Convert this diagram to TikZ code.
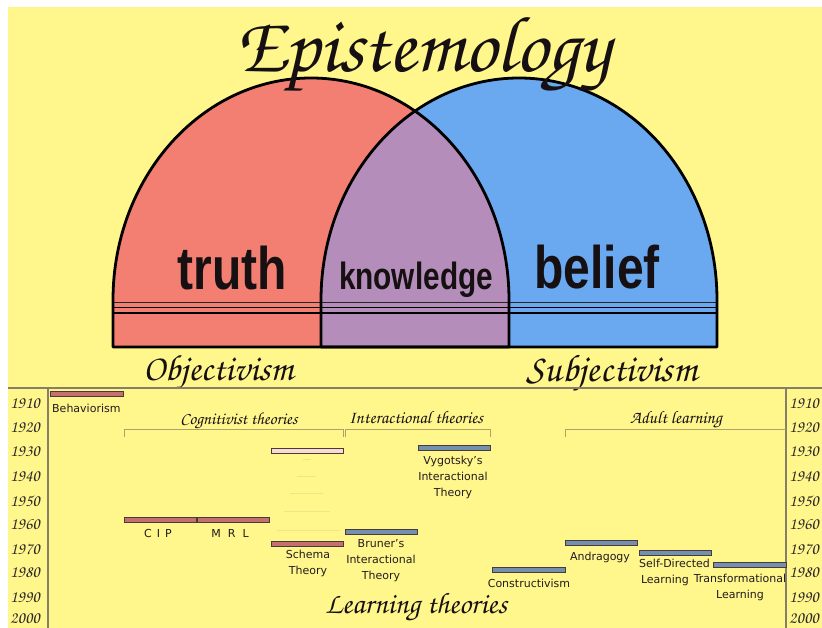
\documentclass[tikz,border=0pt]{standalone}
\usepackage{fontspec}
\usepackage{graphicx}
\setmainfont{DejaVu Sans}
\newfontfamily\arialb{Liberation Sans}
\newfontfamily\hand{texgyrechorus-mediumitalic.otf}

\definecolor{bgyel}{HTML}{FFF68C}
\definecolor{truthred}{HTML}{F27F72}
\definecolor{beliefblue}{HTML}{6AA8F0}
\definecolor{knowpurple}{HTML}{B58DBB}
\definecolor{barred}{HTML}{C47070}
\definecolor{barblue}{HTML}{7391AE}
\definecolor{barpale}{HTML}{F8DCD2}
\definecolor{barline}{HTML}{4A3A3A}
\definecolor{axisgray}{HTML}{857E68}
\definecolor{brkcol}{HTML}{ADA26A}
\definecolor{ink}{HTML}{161012}

\newcommand{\leftarch}{(113,-347) -- (113,-300) arc[start angle=180, end angle=0, x radius=198, y radius=222] -- (509,-347) -- cycle}
\newcommand{\rightarch}{(321,-347) -- (321,-300) arc[start angle=180, end angle=0, x radius=198, y radius=222] -- (717,-347) -- cycle}

\tikzset{
  arch/.style={draw=black, line width=2.8pt, line join=round},
  bar/.style={draw=barline, line width=0.9pt, minimum width=72pt, minimum height=5pt, inner sep=0pt},
  rbar/.style={bar, fill=barred},
  bbar/.style={bar, fill=barblue},
  lbl/.style={font=\fontsize{11}{16}\selectfont, text=ink!95, align=center, inner sep=0pt},
  yr/.style={font=\hand\fontsize{17}{17}\selectfont, text=ink!90, inner sep=0pt},
  brk/.style={draw=brkcol, line width=0.8pt},
  axis/.style={draw=axisgray, line width=1.4pt},
  faint/.style={draw=bgyel!80!brkcol, line width=0.8pt},
  big/.style={font=\arialb\bfseries\fontsize{60}{60}\selectfont, text=ink, xscale=0.8, anchor=base, inner sep=0pt},
  script/.style={anchor=base, inner sep=0pt, text=ink},
}

\begin{document}
\begin{tikzpicture}[x=1pt, y=1pt]
      \useasboundingbox (0,0) rectangle (822,-628);
      \fill[white] (0,0) rectangle (822,-628);
      \fill[bgyel] (8,-7) rectangle (822,-628);
      \fill[truthred] \leftarch;
      \fill[beliefblue] \rightarch;
      \begin{scope}
        \clip \leftarch;
        \fill[knowpurple] \rightarch;
      \end{scope}
      \draw[line width=0.7pt, black!85] (113,-302) -- (717,-302);
      \draw[line width=1.2pt] (113,-307.5) -- (717,-307.5);
      \draw[line width=2pt] (113,-313) -- (717,-313);
      \draw[arch] \leftarch;
      \draw[arch] \rightarch;
      \node[big] (tr) at (232,-290) {truth};
      \node[big, font=\arialb\bfseries\fontsize{38}{38}\selectfont, xscale=0.98] (kn) at (416,-290) {knowledge};
      \node[big] (be) at (597,-289) {belief};
      \node[script] (ttl) at (423,-72) {\resizebox{375pt}{!}{\hand Epistemology}};
      \node[script] (obj) at (218,-381) {\resizebox{150pt}{!}{\hand Objectivism}};
      \node[script] (sub) at (612,-381) {\resizebox{170pt}{!}{\hand Subjectivism}};
      \draw[axis] (8,-388) -- (822,-388);
      \draw[axis] (48,-388) -- (48,-628);
      \draw[axis] (786,-388) -- (786,-628);
      \node[yr] (l1) at (25,-404) {1910};  \node[yr] (r1) at (804,-404) {1910};
      \node[yr] (l2) at (25,-428) {1920};  \node[yr] (r2) at (804,-428) {1920};
      \node[yr] (l3) at (25,-452) {1930};  \node[yr] (r3) at (804,-452) {1930};
      \node[yr] (l4) at (25,-477) {1940};  \node[yr] (r4) at (804,-477) {1940};
      \node[yr] (l5) at (25,-501) {1950};  \node[yr] (r5) at (804,-501) {1950};
      \node[yr] (l6) at (25,-525) {1960};  \node[yr] (r6) at (804,-525) {1960};
      \node[yr] (l7) at (25,-549) {1970};  \node[yr] (r7) at (804,-549) {1970};
      \node[yr] (l8) at (25,-573) {1980};  \node[yr] (r8) at (804,-573) {1980};
      \node[yr] (l9) at (25,-598) {1990};  \node[yr] (r9) at (804,-598) {1990};
      \node[yr] (l10) at (25,-619) {2000}; \node[yr] (r10) at (804,-619) {2000};
      \draw[brk] (124,-437) -- (124,-429) -- (343,-429) -- (343,-437);
      \draw[brk] (345,-437) -- (345,-429) -- (490,-429) -- (490,-437);
      \draw[brk] (565,-437) -- (565,-429) -- (786,-429);
      \node[script] (cog) at (239,-424) {\resizebox{117pt}{!}{\hand Cognitivist theories}};
      \node[script] (int) at (416,-423) {\resizebox{134pt}{!}{\hand Interactional theories}};
      \node[script] (adl) at (676,-423) {\resizebox{92pt}{!}{\hand Adult learning}};
      \node[script] (lth) at (416,-613) {\resizebox{182pt}{!}{\hand Learning theories}};
      \draw[faint] (303,-459) -- (311,-459);
      \draw[faint] (297,-476) -- (316,-476);
      \draw[faint] (290,-493) -- (323,-493);
      \draw[faint] (284,-511) -- (330,-511);
      \draw[faint] (277,-530) -- (340,-530);
      \node[rbar, minimum width=73pt] (beh) at (86.5,-394) {};
        \node[lbl, anchor=west] (behl) at (52,-408) {Behaviorism};
      \node[rbar] (cip) at (160,-519.5) {};
        \node[lbl] (cipl) at (158,-533) {\spaceskip=5pt\relax C I P};
      \node[rbar] (mrl) at (233,-519.5) {};
        \node[lbl] (mrll) at (230,-533) {\spaceskip=7pt\relax M R L};
      \node[bar, fill=barpale] (pal) at (307,-450.5) {};
      \node[rbar] (sch) at (307,-543.5) {};
        \node[lbl] (schl) at (308,-563.5) {Schema\\Theory};
      \node[bbar] (vyg) at (454,-447.5) {};
        \node[lbl] (vygl) at (453,-477) {Vygotsky’s\\Interactional\\Theory};
      \node[bbar] (bru) at (381,-531.5) {};
        \node[lbl] (brul) at (381,-561) {Bruner’s\\Interactional\\Theory};
      \node[bbar, minimum width=73pt] (con) at (528.5,-569.5) {};
        \node[lbl] (conl) at (529,-583) {Constructivism};
      \node[bbar] (and) at (601,-543) {};
        \node[lbl] (andl) at (600,-557) {Andragogy};
      \node[bbar] (sdl) at (675,-552.5) {};
        \node[lbl, anchor=west, align=left] (sdll) at (639,-572) {Self-Directed\\\,Learning};
      \node[bbar, minimum width=73pt] (trf) at (749.5,-564.5) {};
        \node[lbl] (trfl) at (740,-587.5) {Transformational\\Learning};
    \end{tikzpicture}
\end{document}
